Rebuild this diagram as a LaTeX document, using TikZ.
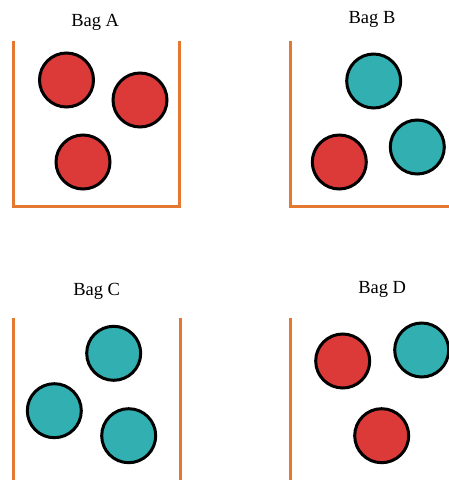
\documentclass[tikz,border=0pt]{standalone}
\usepackage{fontspec}
\setmainfont{Liberation Serif}
\definecolor{ballred}{RGB}{220,58,56}
\definecolor{ballteal}{RGB}{50,175,177}
\definecolor{bagorange}{RGB}{228,120,48}
\tikzset{
  ball/.style={circle, draw=black, line width=3pt, minimum size=54pt, inner sep=0pt},
  redball/.style={ball, fill=ballred},
  tealball/.style={ball, fill=ballteal},
  bagline/.style={draw=bagorange, line width=3pt},
  title/.style={anchor=base, font=\fontsize{18.5}{20}\selectfont, inner sep=0pt}
}
\begin{document}
\begin{tikzpicture}[x=1pt,y=-1pt]
\useasboundingbox (0,0) rectangle (449,480);
\clip (0,0) rectangle (449,480);
% Bag A
\node[title] (tA) at (95.2,26) {Bag A};
\draw[bagline] (13.8,40.7) -- (13.8,206.5) -- (179.8,206.5) -- (179.8,40.7);
\node[redball] (a1) at (66.5,80) {};
\node[redball] (a2) at (140,100) {};
\node[redball] (a3) at (83,162) {};
% Bag B
\node[title] (tB) at (372,23.3) {Bag B};
\draw[bagline] (290.7,41) -- (290.7,206.7) -- (452,206.7);
\node[tealball] (b1) at (373.7,81) {};
\node[redball] (b2) at (339.3,162) {};
\node[tealball] (b3) at (417.3,147) {};
% Bag C
\node[title] (tC) at (96.7,295) {Bag C};
\draw[bagline] (13.7,317.7) -- (13.7,482);
\draw[bagline] (180,317.7) -- (180,482);
\node[tealball] (c1) at (113.7,353.3) {};
\node[tealball] (c2) at (54.3,410.7) {};
\node[tealball] (c3) at (128.7,435.7) {};
% Bag D
\node[title] (tD) at (382.2,293.3) {Bag D};
\draw[bagline] (290.7,317.7) -- (290.7,482);
\node[redball] (d1) at (342.7,361) {};
\node[tealball] (d2) at (421.7,350) {};
\node[redball] (d3) at (381.7,435.7) {};
\end{tikzpicture}
\end{document}
